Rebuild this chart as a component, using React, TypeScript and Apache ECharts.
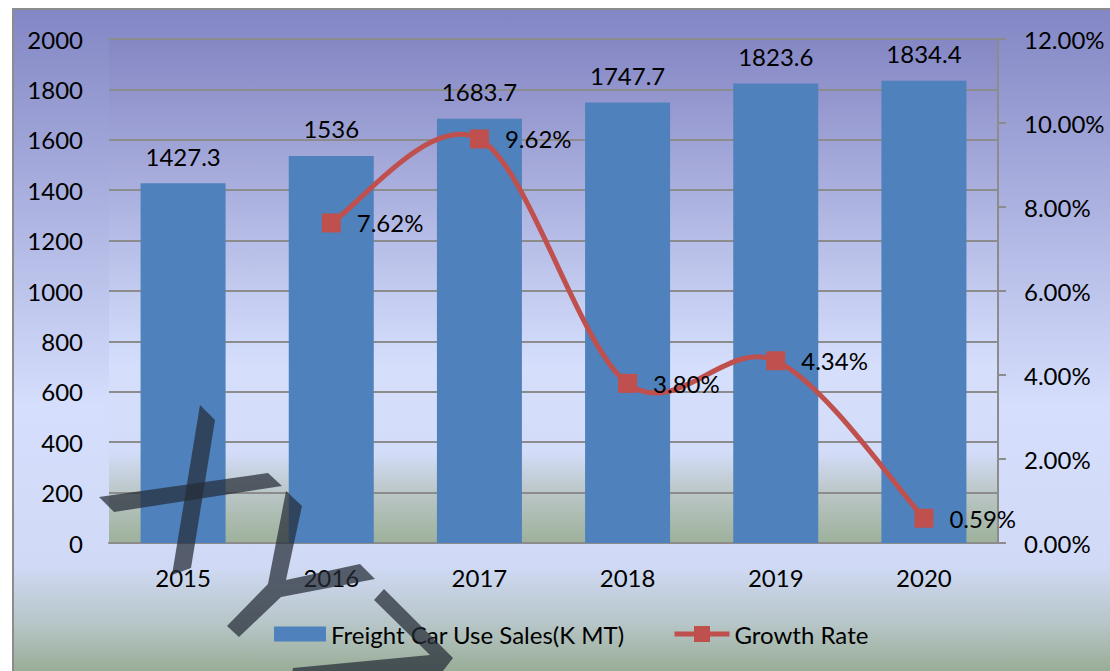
import React, { useEffect, useRef } from "react";
import * as echarts from "echarts";

const categories = ["2015", "2016", "2017", "2018", "2019", "2020"];
const salesValues = [1427.3, 1536, 1683.7, 1747.7, 1823.6, 1834.4];
const growthValues: (number | null)[] = [null, 7.62, 9.62, 3.8, 4.34, 0.59];
const seriesNames = ["Freight Car Use Sales(K MT)", "Growth Rate"];
const leftAxisRange = { min: 0, max: 2000, interval: 200 };
const rightAxisRange = { min: 0, max: 12, interval: 2 };

const FONT = "Lato";
const FS = 24;
const OX = 12;
const OY = 8;
const RED = "#c0504d";
const P = (pts: number[][]) => pts.map(([x, y]) => [x - OX, y - OY]);

// Catmull-Rom style smoothing (like spreadsheet smoothed lines), via the axis scales
function smoothPath(pts: number[][]): string {
  if (pts.length < 2) return "";
  let d = `M${pts[0][0]},${pts[0][1]}`;
  for (let i = 0; i < pts.length - 1; i++) {
    const p0 = pts[Math.max(0, i - 1)];
    const p1 = pts[i];
    const p2 = pts[i + 1];
    const p3 = pts[Math.min(pts.length - 1, i + 2)];
    const c1x = p1[0] + (p2[0] - p0[0]) / 6;
    const c1y = p1[1] + (p2[1] - p0[1]) / 6;
    const c2x = p2[0] - (p3[0] - p1[0]) / 6;
    const c2y = p2[1] - (p3[1] - p1[1]) / 6;
    d += ` C${c1x},${c1y} ${c2x},${c2y} ${p2[0]},${p2[1]}`;
  }
  return d;
}

export default function App() {
  const ref = useRef<HTMLDivElement>(null);
  useEffect(() => {
    if (!ref.current) return;
    const chart = echarts.init(ref.current, null, { renderer: "svg" });
    const wmStyle = { fill: "rgba(38,44,56,0.72)" };
    const lastIndex = growthValues.length - 1;
    const legendText = { fontFamily: FONT, fontSize: FS, color: "#000", padding: [0, 0, 0, 0] };
    chart.setOption({
      animation: false,
      backgroundColor: new echarts.graphic.LinearGradient(0, 0, 0, 1, [
        { offset: 0, color: "#8286c4" },
        { offset: 0.6, color: "#d5defc" },
        { offset: 0.84, color: "#d0daf6" },
        { offset: 0.93, color: "#b6c5c6" },
        { offset: 1, color: "#99ad97" },
      ]),
      textStyle: { fontFamily: FONT, fontSize: FS, color: "#000" },
      grid: {
        left: 97,
        top: 31,
        right: 112,
        bottom: 128,
        show: true,
        borderWidth: 0,
        backgroundColor: new echarts.graphic.LinearGradient(0, 0, 0, 1, [
          { offset: 0, color: "#8587c4" },
          { offset: 0.65, color: "#d5dffc" },
          { offset: 0.82, color: "#d3ddf9" },
          { offset: 0.9, color: "#bac6c6" },
          { offset: 1, color: "#9db19b" },
        ]),
      },
      legend: [
        {
          left: 257,
          top: 609,
          itemWidth: 52,
          itemHeight: 15,
          textStyle: legendText,
          data: [{ name: seriesNames[0], icon: "rect" }],
        },
        {
          left: 655,
          top: 609,
          itemWidth: 55,
          itemHeight: 20,
          textStyle: legendText,
          data: [
            {
              name: seriesNames[1],
              lineStyle: { color: RED, width: 5, opacity: 1 },
            },
          ],
        },
      ],
      xAxis: {
        type: "category",
        data: categories,
        axisLine: { show: true, lineStyle: { color: "#8c8c8c", width: 2 } },
        axisTick: { show: false },
        axisLabel: { fontFamily: FONT, fontSize: FS, color: "#000", margin: 22 },
      },
      yAxis: [
        {
          type: "value",
          ...leftAxisRange,
          axisLine: { show: false },
          axisTick: { show: false },
          splitLine: { lineStyle: { color: "#8c8c8c", width: 2 } },
          axisLabel: {
            fontFamily: FONT,
            fontSize: FS,
            color: "#000",
            margin: 26,
            formatter: (v: number) => String(v),
          },
        },
        {
          type: "value",
          ...rightAxisRange,
          position: "right",
          axisLine: { show: true, lineStyle: { color: "#8c8c8c", width: 2 } },
          axisTick: { show: true, length: 8, lineStyle: { color: "#8c8c8c", width: 2 } },
          splitLine: { show: false },
          axisLabel: {
            fontFamily: FONT,
            fontSize: FS,
            color: "#000",
            margin: 26,
            formatter: (v: number) => v.toFixed(2) + "%",
          },
        },
      ],
      series: [
        {
          name: seriesNames[0],
          type: "bar",
          data: salesValues,
          barWidth: 85,
          itemStyle: { color: "#4f81bd" },
          label: {
            show: true,
            position: "top",
            distance: 15,
            fontFamily: FONT,
            fontSize: FS,
            color: "#000",
          },
          z: 2,
        },
        {
          name: "growth-curve",
          type: "custom",
          yAxisIndex: 1,
          data: growthValues.map((v, i) => [i, v == null ? 0 : v]),
          encode: { x: 0, y: 1 },
          silent: true,
          z: 3,
          renderItem: (params: any, api: any) => {
            if (params.dataIndex !== lastIndex) return null;
            const pts: number[][] = [];
            growthValues.forEach((v, i) => {
              if (v != null) pts.push(api.coord([i, v]));
            });
            return {
              type: "path",
              shape: { pathData: smoothPath(pts) },
              style: { fill: "none", stroke: RED, lineWidth: 5 },
            };
          },
        },
        {
          name: seriesNames[1],
          type: "line",
          yAxisIndex: 1,
          data: growthValues,
          symbol: "rect",
          symbolSize: 19,
          lineStyle: { color: RED, width: 5, opacity: 0 },
          itemStyle: { color: RED },
          label: {
            show: true,
            position: "right",
            distance: 16,
            fontFamily: FONT,
            fontSize: FS,
            color: "#000",
            formatter: (p: any) => (p.value == null ? "" : Number(p.value).toFixed(2) + "%"),
          },
          z: 4,
        },
      ],
      graphic: [
        {
          type: "rect",
          shape: { x: 1, y: 1, width: 1300, height: 1300 },
          style: { fill: "none", stroke: "#8c8c8c", lineWidth: 2 },
          silent: true,
          z: 100,
        },
        {
          type: "polygon",
          shape: { points: P([[200, 405], [215, 420], [191, 568], [172, 575]]) },
          style: wmStyle,
          z: 90,
        },
        {
          type: "polygon",
          shape: { points: P([[99, 497], [268, 473], [282, 486], [114, 512]]) },
          style: wmStyle,
          z: 90,
        },
        {
          type: "polygon",
          shape: {
            points: P([
              [286, 491], [302, 506], [286, 580], [360, 564], [375, 579],
              [281, 597], [239, 637], [227, 626], [268, 584],
            ]),
          },
          style: wmStyle,
          z: 90,
        },
        {
          type: "polygon",
          shape: {
            points: P([
              [374, 600], [384, 589], [453, 658], [436, 680], [290, 685], [293, 668], [430, 655],
            ]),
          },
          style: wmStyle,
          z: 90,
        },
      ],
    });
    return () => chart.dispose();
  }, []);
  return (
    <div
      ref={ref}
      style={{ position: "absolute", left: OX, top: OY, width: 1098, height: 663 }}
    />
  );
}
